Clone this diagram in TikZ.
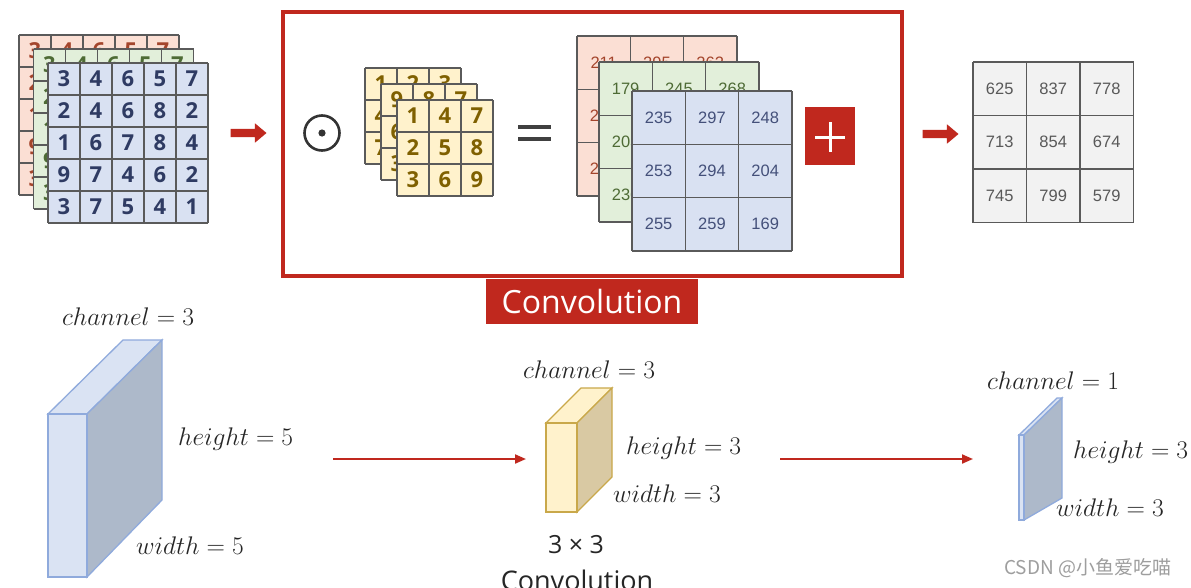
\RequirePackage{fix-cm}
\documentclass[tikz,border=0pt]{standalone}
\usepackage{fontspec}
\newfontfamily\osans{Open Sans}
\newfontfamily\lsans{Liberation Sans}
\newfontfamily\cjk{Noto Sans CJK SC}
\usetikzlibrary{shapes.arrows,arrows.meta}
\definecolor{convred}{HTML}{C0281E}
\definecolor{pinkfill}{HTML}{FBDFD4}
\definecolor{pinktext}{HTML}{A4452C}
\definecolor{greenfill}{HTML}{E2EFDA}
\definecolor{greentext}{HTML}{4E6B35}
\definecolor{bluefill}{HTML}{D9E1F2}
\definecolor{bluetext}{HTML}{2F3B63}
\definecolor{bluetexttwo}{HTML}{44507A}
\definecolor{yellowfill}{HTML}{FFF2CC}
\definecolor{yellowtext}{HTML}{7F6000}
\definecolor{gridgray}{HTML}{5A5A5A}
\definecolor{finalfill}{HTML}{F2F2F2}
\definecolor{finaltext}{HTML}{595959}
\definecolor{cubefront}{HTML}{DAE3F3}
\definecolor{cubeside}{HTML}{ADB9CA}
\definecolor{cubeedge}{HTML}{8FAADC}
\definecolor{ycubeside}{HTML}{D9C9A3}
\definecolor{ycubeedge}{HTML}{C9A84A}
\definecolor{labeltext}{HTML}{262626}
\tikzset{
  gridline/.style={draw=gridgray, line width=1.2},
  leftnum/.style={font=\osans\bfseries\fontsize{22}{24}\selectfont, inner sep=0},
  kernum/.style={font=\osans\bfseries\fontsize{22}{24}\selectfont, inner sep=0, text=yellowtext},
  outnum/.style={font=\lsans\fontsize{16.5}{18}\selectfont, inner sep=0},
  mlabel/.style={anchor=west, inner sep=0, text=labeltext, font=\fontsize{25.5}{30}\selectfont},
  bigarrow/.style={single arrow, fill=convred, draw=none, inner sep=4, minimum height=36, single arrow head extend=5.5, single arrow tip angle=80},
  thinarrow/.style={draw=convred, line width=2, -{Triangle[length=11,width=9]}},
}
\newcommand\mgrid[8]{%
  \fill[#6] (#2,#3) rectangle ({#2+#4*#5},{#3+#4*#5});
  \foreach \v [count=\i from 0] in {#8}{%
    \pgfmathtruncatemacro\rr{floor(\i/#4)}%
    \pgfmathtruncatemacro\cc{\i-\rr*#4}%
    \node[#7] (#1-\i) at ({#2+(\cc+0.5)*#5},{#3+(\rr+0.5)*#5}) {\v};
  }
  \foreach \k in {0,...,#4}{%
    \draw[gridline] ({#2+\k*#5},#3) -- ({#2+\k*#5},{#3+#4*#5});
    \draw[gridline] (#2,{#3+\k*#5}) -- ({#2+#4*#5},{#3+\k*#5});
  }
}
\begin{document}
\begin{tikzpicture}[x=1pt,y=-1pt]
\useasboundingbox (0,0) rectangle (1191,587);
\fill[white] (0,0) rectangle (1191,587);
% input 5x5x3
\mgrid{inr}{19}{35}{5}{32}{pinkfill}{leftnum,text=pinktext}{3,4,6,5,7,2,4,6,8,2,1,6,7,8,4,9,7,4,6,2,3,7,5,4,1}
\mgrid{ing}{33.5}{49}{5}{32}{greenfill}{leftnum,text=greentext}{3,4,6,5,7,2,4,6,8,2,1,6,7,8,4,9,7,4,6,2,3,7,5,4,1}
\mgrid{inb}{48}{63}{5}{32}{bluefill}{leftnum,text=bluetext}{3,4,6,5,7,2,4,6,8,2,1,6,7,8,4,9,7,4,6,2,3,7,5,4,1}
% arrow 1
\node[bigarrow] (arr1) at (246,133) {};
% convolution box
\draw[convred, line width=4] (283,12) rectangle (902,276);
\node[fill=convred, text=white, font=\osans\fontsize{32}{34}\selectfont, minimum width=212, minimum height=45, inner sep=0] (convlabel) at (592,301) {Convolution};
% odot
\draw[black!80, line width=2.6] (322,133) circle (17.5);
\fill[black!80] (322,133) circle (3.6);
% kernels
\mgrid{kb}{365}{68}{3}{32}{yellowfill}{kernum}{1,2,3,4,5,6,7,8,9}
\mgrid{km}{381}{84}{3}{32}{yellowfill}{kernum}{9,8,7,6,5,4,3,2,1}
\mgrid{kf}{397}{100}{3}{32}{yellowfill}{kernum}{1,4,7,2,5,8,3,6,9}
% equals
\draw[black!75, line width=3.2] (518,127) -- (551,127);
\draw[black!75, line width=3.2] (518,139) -- (551,139);
% output per channel
\mgrid{or}{577}{36}{3}{53.3}{pinkfill}{outnum,text=pinktext}{211,295,262,255,297,258,254,269,212}
\mgrid{og}{599}{62}{3}{53.3}{greenfill}{outnum,text=greentext}{179,245,268,205,263,212,236,271,198}
\mgrid{ob}{632}{91}{3}{53.3}{bluefill}{outnum,text=bluetexttwo}{235,297,248,253,294,204,255,259,169}
% plus box
\node[fill=convred, minimum width=50, minimum height=58, inner sep=0] (plusbox) at (830,136) {};
\draw[white, line width=3] (815,137) -- (845,137);
\draw[white, line width=3] (830,122) -- (830,152);
% arrow 2
\node[bigarrow] (arr2) at (938,134) {};
% final
\mgrid{fin}{973}{62}{3}{53.5}{finalfill}{outnum,text=finaltext}{625,837,778,713,854,674,745,799,579}
% ---- bottom ----
% left cuboid
\filldraw[fill=cubefront, draw=cubeedge, line width=1.3] (48,414) -- (87,414) -- (162,340) -- (123,340) -- cycle;
\filldraw[fill=cubeside, draw=cubeedge, line width=1.3] (87,414) -- (162,340) -- (162,500) -- (87,577) -- cycle;
\filldraw[fill=cubefront, draw=cubeedge, line width=1.3] (48,414) rectangle (87,577);
\node[mlabel] (c1) at (62,317) {$channel = 3$};
\node[mlabel] (h1) at (178,439) {$height = 5$};
\node[mlabel] (w1) at (136,546) {$width = 5$};
% arrows
\coordinate (a1s) at (333,459);
\coordinate (a1e) at (526,459);
\draw[thinarrow] (a1s) -- (a1e);
\coordinate (a2s) at (780,459);
\coordinate (a2e) at (973,459);
\draw[thinarrow] (a2s) -- (a2e);
% middle cuboid
\filldraw[fill=yellowfill, draw=ycubeedge, line width=1.3] (546,423) -- (577,423) -- (612,388) -- (581,388) -- cycle;
\filldraw[fill=ycubeside, draw=ycubeedge, line width=1.3] (577,423) -- (612,388) -- (612,477) -- (577,512) -- cycle;
\filldraw[fill=yellowfill, draw=ycubeedge, line width=1.3] (546,423) rectangle (577,512);
\node[mlabel] (c2) at (523,370) {$channel = 3$};
\node[mlabel] (h2) at (626,448) {$height = 3$};
\node[mlabel] (w2) at (613,494) {$width = 3$};
\node[inner sep=0, text=labeltext, font=\osans\fontsize{25}{28}\selectfont] (k33) at (576,545) {3 × 3};
\node[inner sep=0, text=labeltext, font=\osans\fontsize{27}{30}\selectfont] (kconv) at (577,580) {Convolution};
% right slab
\filldraw[fill=cubefront, draw=cubeedge, line width=1.3] (1019,435) -- (1024,435) -- (1062,398) -- (1057,398) -- cycle;
\filldraw[fill=cubeside, draw=cubeedge, line width=1.3] (1024,435) -- (1062,398) -- (1062,498) -- (1024,520) -- cycle;
\filldraw[fill=cubefront, draw=cubeedge, line width=1.3] (1019,435) rectangle (1024,520);
\node[mlabel] (c3) at (987,381) {$channel = 1$};
\node[mlabel] (h3) at (1073,452) {$height = 3$};
\node[mlabel] (w3) at (1056,508) {$width = 3$};
% watermark
\node[anchor=west, inner sep=0, text=black!38, font=\cjk\fontsize{19}{22}\selectfont] (wm) at (1004,568) {CSDN @小鱼爱吃喵};
\end{tikzpicture}
\end{document}
